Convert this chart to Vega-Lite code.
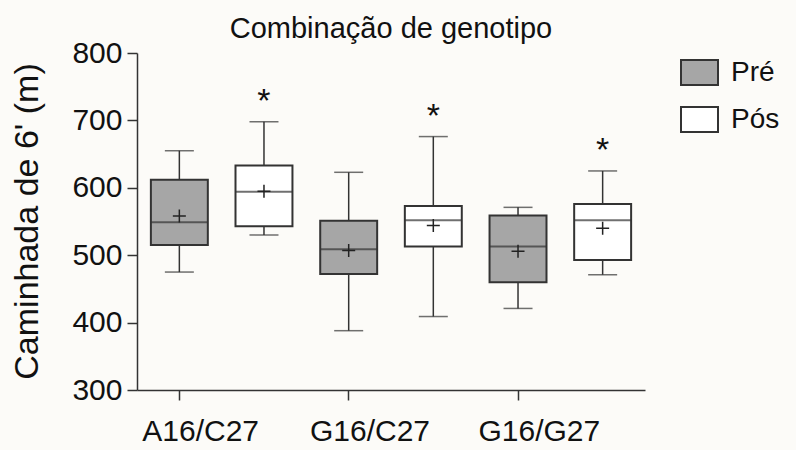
{
  "$schema": "https://vega.github.io/schema/vega-lite/v6.json",
  "autosize": {"type": "none"},
  "width": 508,
  "height": 337,
  "padding": {"left": 137, "top": 53, "right": 151, "bottom": 60},
  "background": "#fcfbf8",
  "config": {
    "font": "Liberation Sans",
    "view": {"stroke": null},
    "axis": {"grid": false, "domainColor": "#333333", "domainWidth": 1.5, "tickColor": "#333333", "tickWidth": 1.5, "labelColor": "#111111", "titleColor": "#111111", "labelFont": "Liberation Sans", "titleFont": "Liberation Sans", "titleFontWeight": "normal"}
  },
  "title": {"text": "Combinação de genotipo", "fontSize": 29, "fontWeight": "normal", "color": "#111111", "anchor": "middle", "frame": "group", "baseline": "alphabetic", "offset": -29},
  "data": {"values": [
    {"grupo": "A16/C27", "fase": "Pré", "min": 475, "q1": 515, "mediana": 549, "q3": 612, "max": 655, "media": 558, "sig": ""},
    {"grupo": "A16/C27", "fase": "Pós", "min": 530, "q1": 543, "mediana": 594, "q3": 633, "max": 698, "media": 595, "sig": "*"},
    {"grupo": "G16/C27", "fase": "Pré", "min": 388, "q1": 472, "mediana": 509, "q3": 551, "max": 623, "media": 507, "sig": ""},
    {"grupo": "G16/C27", "fase": "Pós", "min": 409, "q1": 513, "mediana": 552, "q3": 573, "max": 676, "media": 544, "sig": "*"},
    {"grupo": "G16/G27", "fase": "Pré", "min": 421, "q1": 460, "mediana": 513, "q3": 559, "max": 571, "media": 506, "sig": ""},
    {"grupo": "G16/G27", "fase": "Pós", "min": 471, "q1": 493, "mediana": 552, "q3": 576, "max": 625, "media": 540, "sig": "*"}
  ]},
  "encoding": {
    "x": {"field": "grupo", "type": "nominal", "sort": ["A16/C27", "G16/C27", "G16/G27"],
      "scale": {"paddingInner": 0, "paddingOuter": 0},
      "axis": {"title": null, "labelAngle": 0, "labelFontSize": 30, "tickSize": 10, "labelPadding": 16, "bandPosition": 0.25, "labelOffset": -21}},
    "xOffset": {"field": "fase", "type": "nominal", "sort": ["Pré", "Pós"],
      "scale": {"paddingInner": 0.327, "paddingOuter": 0.164}}
  },
  "layer": [
    {
      "mark": {"type": "rule", "color": "#333333", "strokeWidth": 1.5},
      "encoding": {
        "y": {"field": "min", "type": "quantitative", "scale": {"domain": [300, 800], "nice": false, "zero": false},
          "axis": {"title": "Caminhada de 6' (m)", "values": [300, 400, 500, 600, 700, 800], "labelFontSize": 30, "tickSize": 10, "labelPadding": 5, "titleFontSize": 34, "titleAngle": 270, "titleX": -110, "titleY": 168, "titleAlign": "center", "titleBaseline": "middle"}},
        "y2": {"field": "max"}
      }
    },
    {
      "mark": {"type": "tick", "color": "#333333", "size": 29, "thickness": 1.5},
      "encoding": {"y": {"field": "min", "type": "quantitative"}}
    },
    {
      "mark": {"type": "tick", "color": "#333333", "size": 29, "thickness": 1.5},
      "encoding": {"y": {"field": "max", "type": "quantitative"}}
    },
    {
      "mark": {"type": "bar", "stroke": "#333333", "strokeWidth": 2},
      "encoding": {
        "y": {"field": "q1", "type": "quantitative"},
        "y2": {"field": "q3"},
        "fill": {"field": "fase", "type": "nominal", "sort": ["Pré", "Pós"],
          "scale": {"domain": ["Pré", "Pós"], "range": ["#a6a6a6", "#ffffff"]},
          "legend": {"title": null, "orient": "right", "offset": 35, "symbolType": "M-1,-0.68H1V0.68H-1Z", "symbolSize": 1369, "symbolStrokeColor": "#333333", "symbolStrokeWidth": 2, "symbolOpacity": 1, "labelFontSize": 28, "labelColor": "#111111", "labelOffset": 12, "rowPadding": 10, "padding": 0}}
      }
    },
    {
      "mark": {"type": "tick", "color": "#333333", "size": 57, "thickness": 2},
      "encoding": {"y": {"field": "mediana", "type": "quantitative"}}
    },
    {
      "mark": {"type": "point", "shape": "M-1,0H1M0,-1V1", "filled": false, "stroke": "#222222", "strokeWidth": 1.5, "size": 169, "opacity": 1},
      "encoding": {"y": {"field": "media", "type": "quantitative"}}
    },
    {
      "transform": [{"filter": "datum.sig === '*'"}],
      "mark": {"type": "text", "fontSize": 34, "color": "#111111", "dy": -20, "baseline": "middle"},
      "encoding": {
        "y": {"field": "max", "type": "quantitative"},
        "text": {"field": "sig"}
      }
    }
  ]
}
